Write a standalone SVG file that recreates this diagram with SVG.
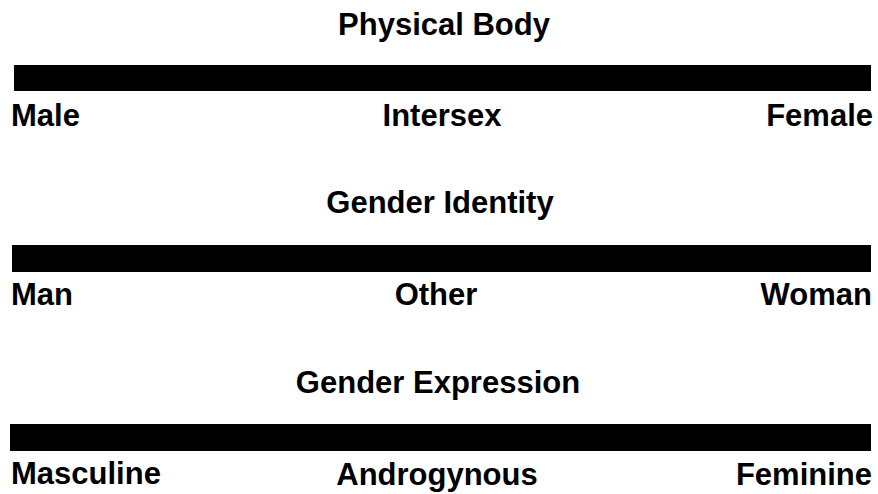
<svg xmlns="http://www.w3.org/2000/svg" width="878" height="494" viewBox="0 0 878 494">
<style>
text{font-family:"Liberation Sans",Arial,Helvetica,sans-serif;font-weight:bold;font-size:31px;fill:#000}
.t{text-anchor:middle}
.m{text-anchor:middle}
.r{text-anchor:end}
.bar{fill:#000}
</style>
<rect x="0" y="0" width="878" height="494" fill="#fff"/>
<g id="physical-body">
<text class="t" x="444" y="35">Physical Body</text>
<rect class="bar" x="14" y="65" width="857" height="26"/>
<text x="11" y="126">Male</text>
<text class="m" x="442" y="126">Intersex</text>
<text class="r" x="873" y="126">Female</text>
</g>
<g id="gender-identity">
<text class="t" x="440" y="213">Gender Identity</text>
<rect class="bar" x="12" y="245" width="859" height="27"/>
<text x="11" y="305">Man</text>
<text class="m" x="436" y="305">Other</text>
<text class="r" x="872" y="305">Woman</text>
</g>
<g id="gender-expression">
<text class="t" x="438" y="393">Gender Expression</text>
<rect class="bar" x="10" y="424" width="861" height="27"/>
<text x="11" y="484">Masculine</text>
<text class="m" x="437" y="485">Androgynous</text>
<text class="r" x="872" y="485">Feminine</text>
</g>
<g id="connectors"></g>
</svg>
